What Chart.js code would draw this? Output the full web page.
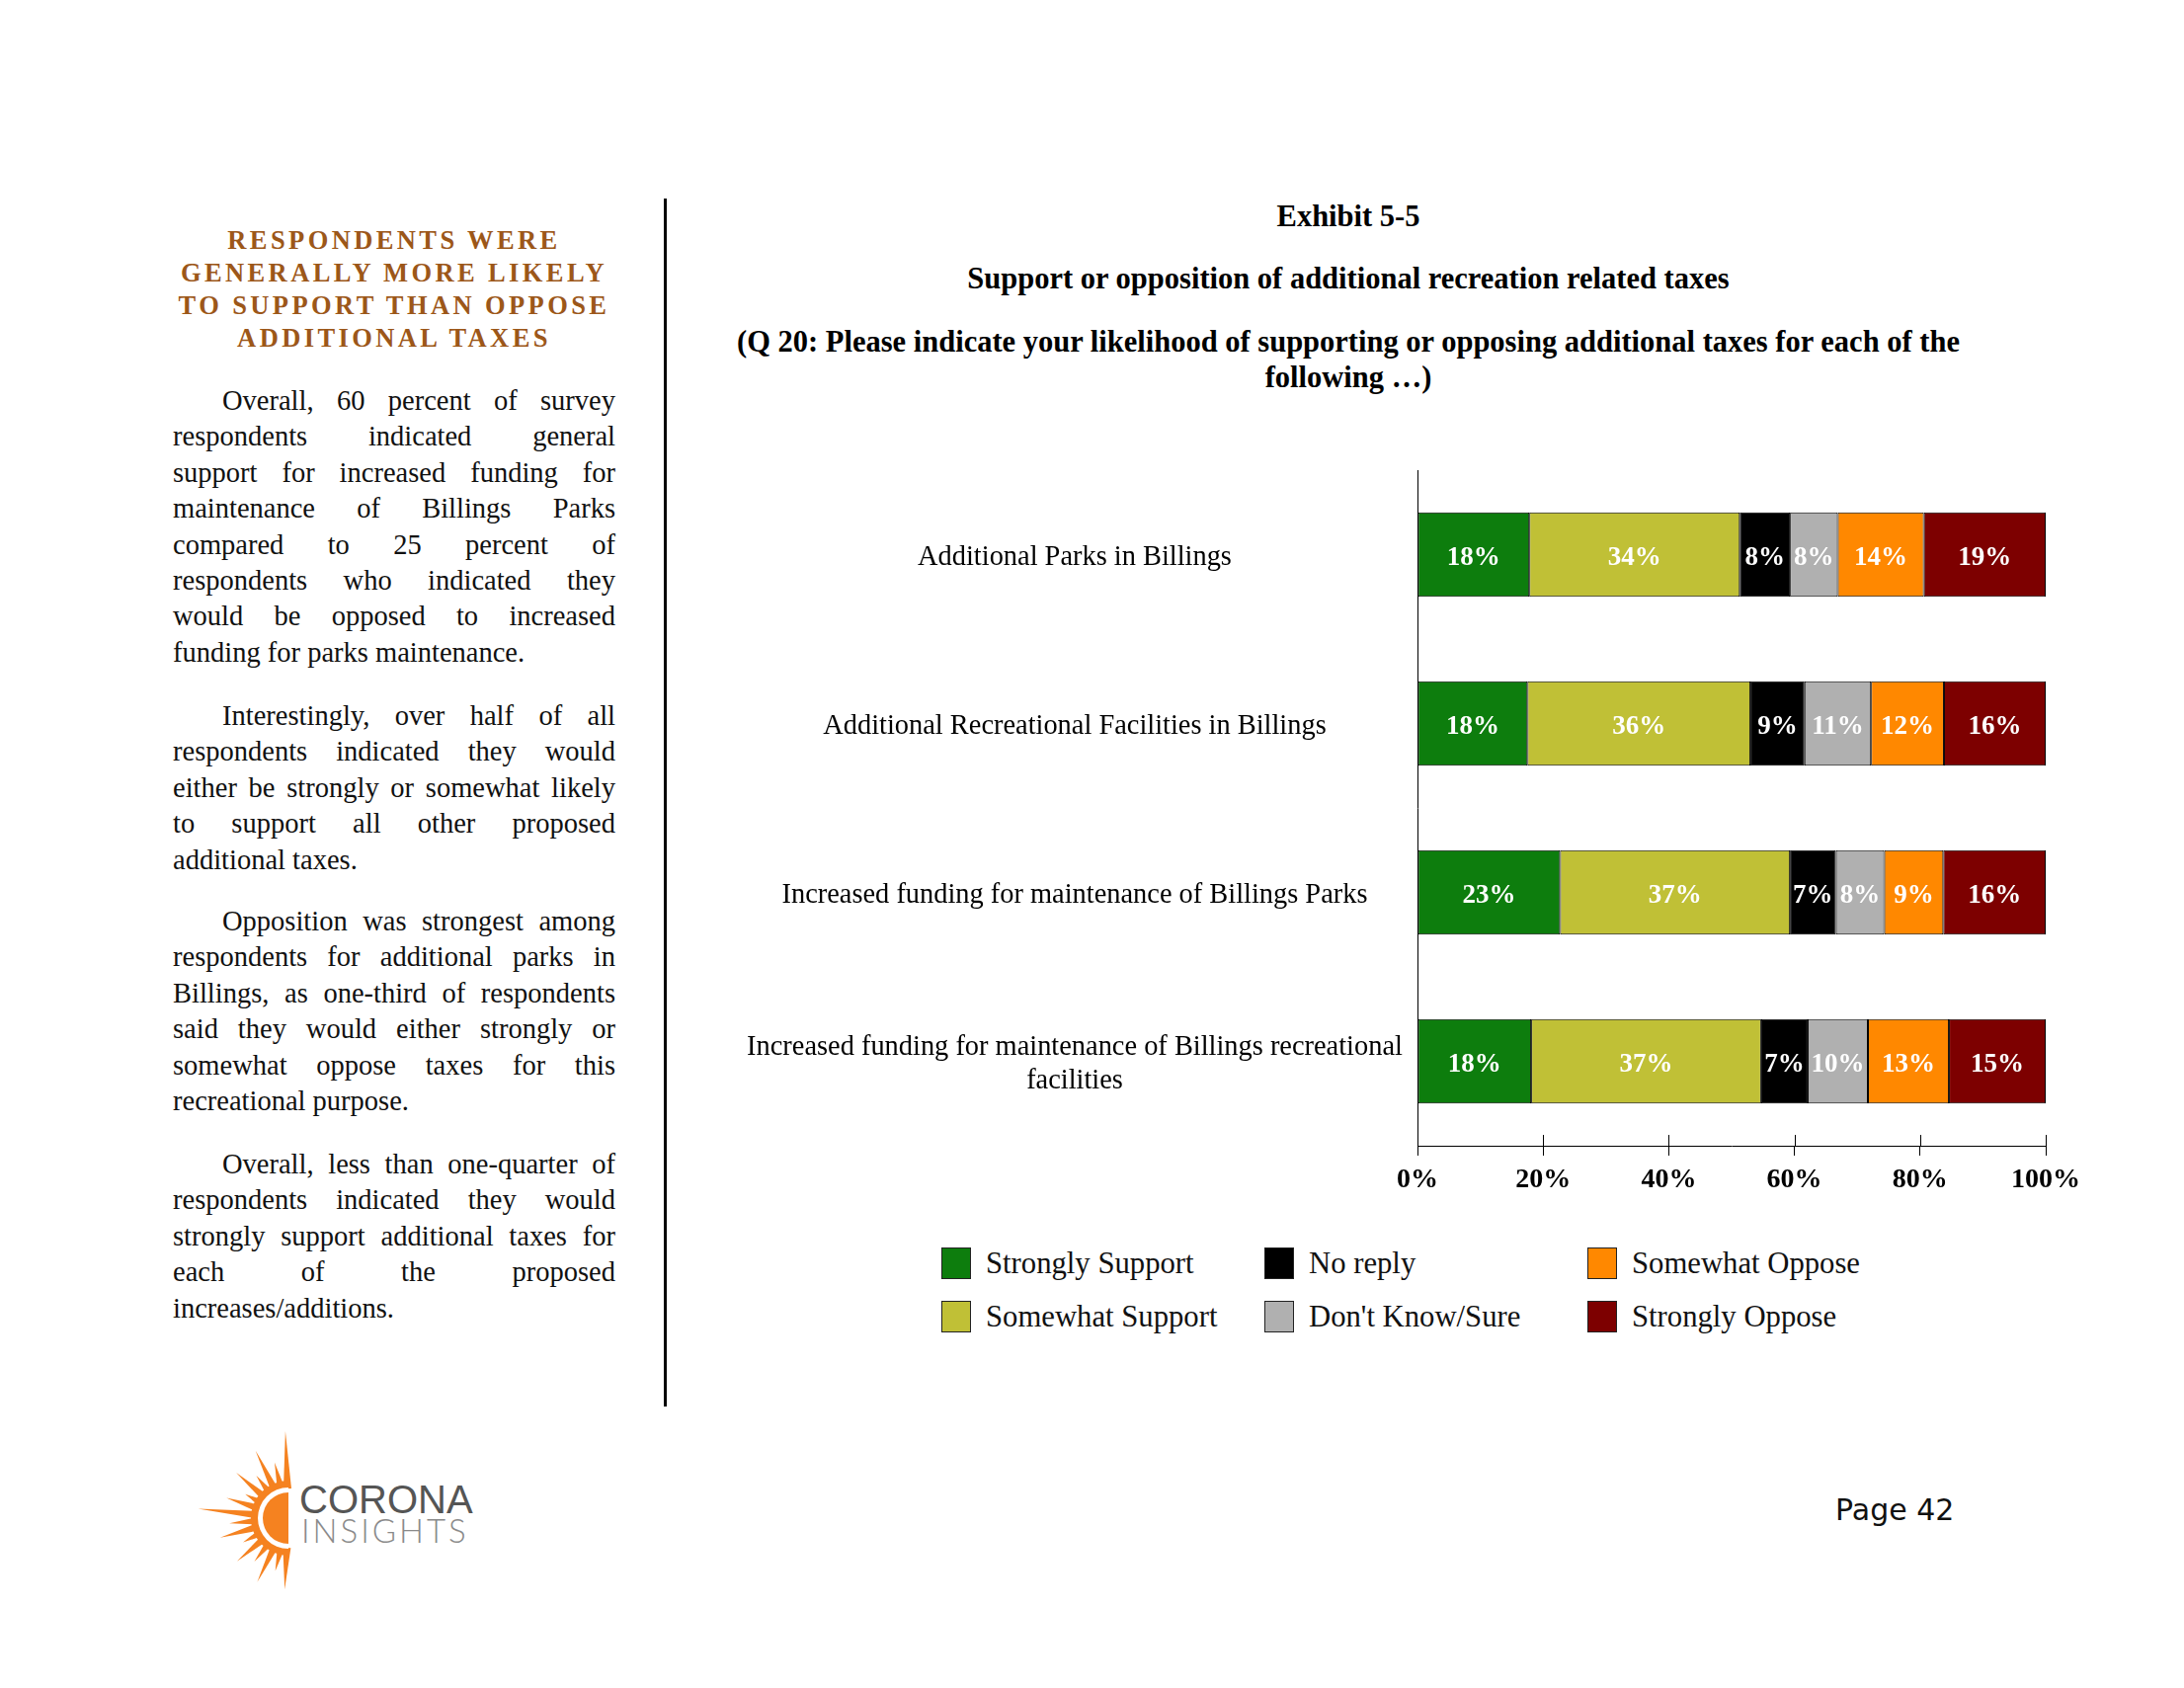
<!DOCTYPE html>
<html>
<head>
<meta charset="utf-8">
<title>Exhibit 5-5</title>
<script src="https://cdn.jsdelivr.net/npm/chart.js"></script>
<style>
html,body{margin:0;padding:0;background:#fff;}
body{width:2211px;height:1709px;position:relative;overflow:hidden;font-family:"Liberation Serif","Times New Roman",serif;color:#111;}
#heading{position:absolute;left:175px;top:227px;width:448px;text-align:center;color:#9C5719;font-weight:bold;font-size:26.5px;letter-spacing:3.4px;line-height:33px;}
.para{position:absolute;left:175px;width:448px;font-size:28.5px;line-height:36.4px;color:#111;}
.para div{white-space:nowrap;text-align:justify;text-align-last:justify;}
.para div.last{text-align:left;text-align-last:left;}
.para div.first{text-indent:50px;}
#sep{position:absolute;left:672px;top:201px;width:3px;height:1223px;background:#000;}
.title{position:absolute;left:565px;width:1600px;text-align:center;white-space:nowrap;font-weight:bold;font-size:30.5px;line-height:36px;color:#000;}
#chartBox{position:absolute;left:740px;top:440px;width:1400px;height:800px;}
#legend{position:absolute;left:0;top:0;}
.lg-item{position:absolute;height:40px;display:flex;align-items:center;font-size:30.7px;color:#111;white-space:nowrap;}
.lg-box{width:30px;height:32px;border:1px solid #222;margin-right:15px;box-sizing:border-box;}
#page{position:absolute;left:1858px;top:1510px;font-family:"DejaVu Sans",sans-serif;font-size:30px;line-height:38px;color:#111;}
#logo{position:absolute;left:195px;top:1445px;}
</style>
</head>
<body>

<div id="heading">RESPONDENTS WERE<br>GENERALLY MORE LIKELY<br>TO SUPPORT THAN OPPOSE<br>ADDITIONAL TAXES</div>

<div class="para" style="top:388px">
<div class="first">Overall, 60 percent of survey</div>
<div>respondents indicated general</div>
<div>support for increased funding for</div>
<div>maintenance of Billings Parks</div>
<div>compared to 25 percent of</div>
<div>respondents who indicated they</div>
<div>would be opposed to increased</div>
<div class="last">funding for parks maintenance.</div>
</div>

<div class="para" style="top:707px">
<div class="first">Interestingly, over half of all</div>
<div>respondents indicated they would</div>
<div>either be strongly or somewhat likely</div>
<div>to support all other proposed</div>
<div class="last">additional taxes.</div>
</div>

<div class="para" style="top:915px">
<div class="first">Opposition was strongest among</div>
<div>respondents for additional parks in</div>
<div>Billings, as one-third of respondents</div>
<div>said they would either strongly or</div>
<div>somewhat oppose taxes for this</div>
<div class="last">recreational purpose.</div>
</div>

<div class="para" style="top:1161px">
<div class="first">Overall, less than one-quarter of</div>
<div>respondents indicated they would</div>
<div>strongly support additional taxes for</div>
<div>each of the proposed</div>
<div class="last">increases/additions.</div>
</div>

<div id="sep"></div>

<div class="title" style="top:201px">Exhibit 5-5</div>
<div class="title" style="top:264px">Support or opposition of additional recreation related taxes</div>
<div class="title" style="top:328px">(Q 20: Please indicate your likelihood of supporting or opposing additional taxes for each of the</div>
<div class="title" style="top:364px">following …)</div>

<div id="chartBox"><canvas id="chart" width="1400" height="800" style="width:1400px;height:800px"></canvas></div>

<div id="legend"></div>

<svg id="logo" width="320" height="180" viewBox="0 0 320 180"></svg>

<div id="page">Page 42</div>

<script>
// ---------------- DATA ----------------
const categories = [
  "Additional Parks in Billings",
  "Additional Recreational Facilities in Billings",
  "Increased funding for maintenance of Billings Parks",
  ["Increased funding for maintenance of Billings recreational", "facilities"]
];
const seriesNames = ["Strongly Support", "Somewhat Support", "No reply", "Don't Know/Sure", "Somewhat Oppose", "Strongly Oppose"];
const seriesColors = ["#0D7D0D", "#C0C036", "#000000", "#B0B0B0", "#FF8800", "#7D0000"];
const stronglySupport = [17.8, 17.5, 22.7, 18.1];
const somewhatSupport = [33.5, 35.5, 36.6, 36.6];
const noReply        = [8.0, 8.6, 7.3, 7.4];
const dontKnowSure   = [7.6, 10.6, 7.7, 9.6];
const somewhatOppose = [13.7, 11.6, 9.4, 12.9];
const stronglyOppose = [19.4, 16.2, 16.3, 15.4];
const xTickLabels = ["0%", "20%", "40%", "60%", "80%", "100%"];
const seriesValues = [stronglySupport, somewhatSupport, noReply, dontKnowSure, somewhatOppose, stronglyOppose];

// ---------------- LAYOUT HELPERS ----------------
const CHART_LEFT_IN_CANVAS = 695;   // y axis width
const LABEL_CENTER_IN_CANVAS = 348; // centre of category labels
const CAT_FONT_SIZE = 28.4;
const mctx = document.createElement('canvas').getContext('2d');
mctx.font = CAT_FONT_SIZE + 'px "Liberation Serif"';
const widest = Math.max(...categories.flat().map(t => mctx.measureText(t).width));
const yPad = Math.max(2, CHART_LEFT_IN_CANVAS - LABEL_CENTER_IN_CANVAS - widest / 2);

const barLabels = {
  id: 'barLabels',
  afterDatasetsDraw(chart) {
    const ctx = chart.ctx;
    ctx.save();
    ctx.font = 'bold 27px "Liberation Serif"';
    ctx.fillStyle = '#ffffff';
    ctx.textAlign = 'center';
    ctx.textBaseline = 'middle';
    chart.data.datasets.forEach((ds, i) => {
      const meta = chart.getDatasetMeta(i);
      meta.data.forEach((el, j) => {
        const p = el.getProps(['x', 'y', 'base'], true);
        ctx.fillText(Math.round(ds.data[j]) + '%', (p.x + p.base) / 2, p.y + 4);
      });
    });
    ctx.restore();
  }
};

const tickUp = {
  id: 'tickUp',
  afterDraw(chart) {
    const xs = chart.scales.x;
    const ctx = chart.ctx;
    ctx.save();
    ctx.strokeStyle = '#000';
    ctx.lineWidth = 1;
    xs.ticks.forEach((t, i) => {
      const px = Math.round(xs.getPixelForTick(i)) + 0.5;
      ctx.beginPath();
      ctx.moveTo(px, xs.top - 11);
      ctx.lineTo(px, xs.top);
      ctx.stroke();
    });
    ctx.restore();
  }
};

new Chart(document.getElementById('chart'), {
  type: 'bar',
  data: {
    labels: categories,
    datasets: seriesNames.map((name, i) => ({
      label: name,
      data: seriesValues[i],
      backgroundColor: seriesColors[i],
      borderColor: '#000',
      borderWidth: 1,
      borderSkipped: false,
      categoryPercentage: 0.5,
      barPercentage: 1.0
    }))
  },
  options: {
    indexAxis: 'y',
    responsive: false,
    animation: false,
    devicePixelRatio: 1,
    layout: { padding: { left: 0, top: 36, right: 69, bottom: 0 } },
    plugins: { legend: { display: false }, tooltip: { enabled: false }, title: { display: false } },
    scales: {
      x: {
        stacked: true,
        min: 0, max: 100,
        ticks: {
          stepSize: 20,
          callback: (v, i) => xTickLabels[i],
          font: { family: 'Liberation Serif', size: 28, weight: 'bold' },
          color: '#000',
          padding: 8,
          maxRotation: 0
        },
        grid: { drawOnChartArea: false, drawTicks: true, tickLength: 10, color: '#000', lineWidth: 1 },
        border: { display: true, color: '#000', width: 1 },
        afterFit(s) { s.height = 80; s.paddingLeft = 0; s.paddingRight = 0; }
      },
      y: {
        stacked: true,
        grid: { display: false, drawTicks: false },
        border: { display: true, color: '#000', width: 1 },
        ticks: {
          font: { family: 'Liberation Serif', size: CAT_FONT_SIZE },
          color: '#000',
          crossAlign: 'center',
          padding: yPad,
          labelOffset: 3,
          autoSkip: false
        },
        afterFit(s) { s.width = CHART_LEFT_IN_CANVAS; s.paddingTop = 0; s.paddingBottom = 0; }
      }
    }
  },
  plugins: [barLabels, tickUp]
});

// ---------------- LEGEND (HTML, from the series arrays) ----------------
const legendColX = [953, 1280, 1607];
const legendRowY = [1259, 1313];
const legend = document.getElementById('legend');
seriesNames.forEach((name, i) => {
  const col = Math.floor(i / 2), row = i % 2;
  const it = document.createElement('div');
  it.className = 'lg-item';
  it.style.left = legendColX[col] + 'px';
  it.style.top = legendRowY[row] + 'px';
  const box = document.createElement('div');
  box.className = 'lg-box';
  box.style.background = seriesColors[i];
  const tx = document.createElement('span');
  tx.textContent = name;
  it.appendChild(box); it.appendChild(tx);
  legend.appendChild(it);
});

// ---------------- LOGO ----------------
(function () {
  const svg = document.getElementById('logo');
  const NS = 'http://www.w3.org/2000/svg';
  const cx = 97, cy = 92;
  const angles = [268, 256, 244, 233, 221, 209, 198, 186, 175, 164, 152, 140, 128, 116, 104, 93];
  const lens =   [ 88,  58,  76,  54,  70,  50,  66,  92,  60,  72,  52,  68,  56,  72,  55,  72];
  const g = document.createElementNS(NS, 'g');
  angles.forEach((a, k) => {
    const r = a * Math.PI / 180;
    const dx = Math.cos(r), dy = Math.sin(r);
    const px = -dy, py = dx;
    const r0 = 30, w = 4;
    const pts = [
      [cx + dx * r0 + px * w, cy + dy * r0 + py * w],
      [cx + dx * lens[k], cy + dy * lens[k]],
      [cx + dx * r0 - px * w, cy + dy * r0 - py * w]
    ].map(p => p.map(v => v.toFixed(1)).join(',')).join(' ');
    const poly = document.createElementNS(NS, 'polygon');
    poly.setAttribute('points', pts);
    poly.setAttribute('fill', '#F58220');
    g.appendChild(poly);
  });
  const c1 = document.createElementNS(NS, 'path');
  c1.setAttribute('d', `M ${cx} ${cy - 38} A 38 38 0 0 0 ${cx} ${cy + 38} Z`);
  c1.setAttribute('fill', '#F58220');
  g.appendChild(c1);
  const c2 = document.createElementNS(NS, 'path');
  c2.setAttribute('d', `M ${cx} ${cy - 31} A 31 31 0 0 0 ${cx} ${cy + 31} Z`);
  c2.setAttribute('fill', '#fff');
  g.appendChild(c2);
  const c3 = document.createElementNS(NS, 'path');
  c3.setAttribute('d', `M ${cx} ${cy - 26} A 26 26 0 0 0 ${cx} ${cy + 26} Z`);
  c3.setAttribute('fill', '#F58220');
  g.appendChild(c3);
  svg.appendChild(g);
  const t1 = document.createElementNS(NS, 'text');
  t1.setAttribute('x', 108); t1.setAttribute('y', 87);
  t1.setAttribute('font-family', 'Liberation Sans, Arial, sans-serif');
  t1.setAttribute('font-size', '40'); t1.setAttribute('fill', '#555');
  t1.textContent = 'CORONA';
  svg.appendChild(t1);
  const t2 = document.createElementNS(NS, 'text');
  t2.setAttribute('x', 110); t2.setAttribute('y', 117);
  t2.setAttribute('font-family', 'Lato, Liberation Sans, sans-serif');
  t2.setAttribute('font-weight', '300');
  t2.setAttribute('font-size', '33'); t2.setAttribute('fill', '#8a8a8a');
  t2.setAttribute('letter-spacing', '3');
  t2.textContent = 'INSIGHTS';
  svg.appendChild(t2);
})();
</script>
</body>
</html>
